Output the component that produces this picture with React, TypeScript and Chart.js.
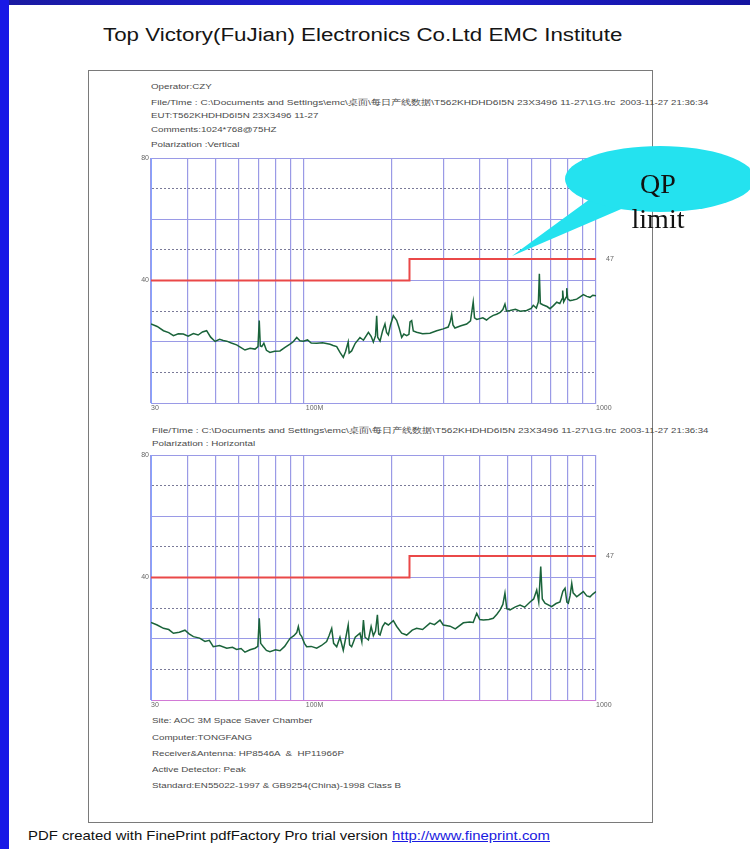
import React, { useEffect, useRef } from 'react';
import { Chart, registerables } from 'chart.js';

Chart.register(...registerables);

// ---------- data ----------
const gridFreqs = [30, 40, 50, 60, 70, 80, 90, 100, 200, 300, 400, 500, 600, 700, 800, 900, 1000];
const xTickLabels: Record<number, string> = { 30: '30', 100: ' 100M', 1000: '1000' };
const yTickLabels = [80, 40];
const limitFreq = [30, 230, 230, 1000];
const limitLevel = [40, 40, 47, 47];
const limitTick = [47];

const vertFreq = [30, 31.5, 33.1, 34.5, 35.8, 37.2, 38.7, 40.2, 41.9, 43.5, 45, 46.5, 48, 49.7, 51.5, 53, 54.5, 56.5, 58.9, 60.8, 62.9, 65.5, 68.1, 69.7, 70.4, 71, 71.8, 73, 74.5, 76.6, 79.5, 82.9, 86, 89.7, 92, 94.6, 97, 99.6, 103, 106, 110.7, 116, 123, 126, 129.6, 133, 136.5, 139, 141.9, 143, 145.8, 150, 155.7, 160, 166.4, 170, 173, 176, 177.6, 179, 182.4, 186, 189.6, 192, 194.7, 198, 202.5, 207.9, 212, 216.3, 220, 225, 229, 231, 234, 237, 243.3, 255, 270.3, 285, 300, 312, 317, 320.7, 324, 329, 345, 361, 372, 380, 384, 390.7, 410, 422, 433.6, 445, 457, 470, 480, 488, 494, 508, 530, 550, 579, 600, 610, 625, 635, 640, 645, 660, 680, 696, 715, 734, 752, 765, 769, 775, 790, 794, 800, 815, 835, 859, 880, 905, 930, 954, 975, 1000];
const vertLevel = [25.8, 25.0, 23.6, 23.0, 22.0, 22.6, 22.5, 21.8, 22.7, 22.2, 23.2, 23.6, 21.5, 20.1, 20.8, 20.4, 20.2, 19.6, 19.0, 18.2, 17.3, 17.9, 17.6, 18.4, 26.9, 18.6, 18.4, 19.5, 17.2, 16.5, 16.9, 17.0, 18.1, 19.2, 20.0, 21.4, 20.3, 20.2, 20.6, 19.6, 19.5, 19.7, 19.2, 18.8, 18.4, 16.5, 14.9, 16.8, 19.9, 16.3, 17.0, 19.5, 21.4, 20.5, 23.1, 21.8, 19.9, 22.0, 28.5, 21.5, 20.2, 23.5, 25.8, 23.0, 22.2, 25.5, 28.5, 27.0, 24.5, 21.4, 22.5, 22.0, 22.4, 26.5, 26.9, 23.5, 23.1, 22.6, 22.8, 23.6, 24.2, 24.8, 26.5, 28.9, 25.5, 24.5, 25.2, 25.8, 26.8, 33.0, 27.8, 27.3, 27.8, 27.1, 28.0, 28.6, 29.0, 29.6, 30.5, 32.3, 30.0, 30.2, 30.6, 30.0, 30.2, 30.9, 31.9, 31.0, 33.0, 42.2, 32.5, 32.0, 31.5, 30.8, 31.8, 32.9, 32.5, 34.0, 36.7, 33.0, 34.5, 37.5, 34.0, 33.4, 33.6, 33.9, 34.6, 35.4, 34.8, 34.5, 35.2, 35.0];

const horFreq = [30, 31.5, 33.1, 34.5, 35.8, 37.5, 39.2, 40.5, 41.9, 44, 45.9, 47.5, 49, 51.5, 54.5, 57, 58.9, 61, 62.9, 65.5, 68.1, 69.6, 70.4, 71.2, 72.7, 74.5, 76.6, 80, 82.9, 86, 89.7, 92.5, 94.6, 95.8, 97, 98.3, 100.5, 102.3, 106, 110.7, 115, 119.7, 122, 124.6, 126.5, 129.6, 133, 136.5, 139, 141.9, 143.5, 145.8, 150, 155.7, 158, 160, 162, 166.4, 170, 173, 176, 178.6, 180.5, 182.4, 186, 189.6, 194.7, 202.5, 208, 216.3, 225, 235, 243.3, 255, 270.3, 280, 292.5, 300, 316.5, 330, 351.6, 370, 380, 390.7, 400, 411.6, 430, 445, 458, 469.6, 480, 488, 495, 508, 530, 549.6, 570, 594.7, 612, 626.8, 637, 647, 655, 669, 705, 730, 753, 770, 783.5, 795, 804, 815, 826, 835, 859, 880, 905, 930, 954, 975, 1000];
const horLevel = [25.3, 24.5, 23.4, 23.0, 21.8, 22.1, 22.8, 21.6, 20.7, 20.2, 19.1, 19.5, 17.4, 17.8, 16.9, 17.2, 16.5, 16.8, 15.6, 16.4, 16.9, 17.5, 26.7, 18.5, 17.4, 16.2, 15.8, 16.4, 16.1, 17.5, 20.1, 21.0, 22.0, 24.0, 21.5, 20.8, 18.5, 17.4, 17.5, 16.9, 17.8, 19.1, 21.0, 23.4, 18.5, 17.4, 20.5, 16.2, 20.0, 24.5, 18.0, 17.4, 20.5, 21.8, 19.0, 26.1, 20.5, 19.6, 24.0, 21.0, 22.5, 27.8, 21.5, 21.2, 24.0, 25.2, 24.5, 25.9, 24.0, 21.8, 21.2, 22.8, 23.4, 23.0, 25.1, 24.6, 26.1, 24.5, 24.1, 23.2, 25.2, 25.5, 25.3, 28.3, 26.3, 26.1, 26.3, 26.7, 28.0, 29.4, 31.2, 34.9, 29.8, 29.4, 30.4, 31.0, 30.3, 32.0, 33.0, 35.9, 32.0, 43.6, 33.0, 31.6, 30.5, 31.5, 32.0, 35.5, 36.5, 32.0, 31.6, 34.0, 38.1, 35.0, 33.7, 34.5, 35.4, 34.0, 33.7, 34.6, 35.4];

// ---------- styling ----------
const SANS = "'Liberation Sans', Arial, sans-serif";
const SERIF = "'Liberation Serif', 'Times New Roman', serif";

type PlotProps = { freq: number[]; level: number[]; left: number; top: number; bottomColor: string };

function EmcPlot({ freq, level, left, top, bottomColor }: PlotProps) {
  const ref = useRef<HTMLCanvasElement | null>(null);
  useEffect(() => {
    if (!ref.current) return;
    const trace = freq.map((x, i) => ({ x, y: level[i] }));
    const limit = limitFreq.map((x, i) => ({ x, y: limitLevel[i] }));
    const tickFont = { family: SANS, size: 7 };
    const chart = new Chart(ref.current, {
      type: 'line',
      data: {
        datasets: [
          { data: trace, borderColor: '#1a633a', borderWidth: 1.5, pointRadius: 0, tension: 0, yAxisID: 'y' },
          { data: limit, borderColor: '#ea4848', borderWidth: 2, pointRadius: 0, tension: 0, yAxisID: 'y' },
        ],
      },
      options: {
        animation: false,
        responsive: false,
        events: [],
        layout: { padding: { top: 8, left: 0, right: 0, bottom: 0 } },
        plugins: { legend: { display: false }, tooltip: { enabled: false } },
        scales: {
          x: {
            type: 'logarithmic',
            min: 30,
            max: 1000,
            afterBuildTicks: (s: any) => {
              s.ticks = gridFreqs.map((v) => ({ value: v }));
            },
            afterFit: (s: any) => {
              s.height = 13;
            },
            ticks: {
              autoSkip: false,
              maxRotation: 0,
              minRotation: 0,
              align: 'start',
              padding: 1,
              color: '#666',
              font: tickFont,
              callback: (v: any) => xTickLabels[Number(v)] ?? '',
            },
            grid: { color: '#9a9ae6', lineWidth: 1.2, drawTicks: false },
            border: { display: true, color: bottomColor, width: 1 },
          },
          y: {
            type: 'linear',
            position: 'left',
            min: 0,
            max: 80,
            afterFit: (s: any) => {
              s.width = 31;
            },
            ticks: {
              stepSize: 10,
              autoSkip: false,
              padding: 2,
              color: '#666',
              font: tickFont,
              callback: (v: any) => (yTickLabels.includes(Number(v)) ? String(v) : ''),
            },
            grid: {
              drawTicks: false,
              lineWidth: 1,
              color: (ctx: any) => (ctx.tick && ctx.tick.value % 20 !== 0 ? '#7a7a98' : '#9a9ae6'),
            },
            border: {
              display: true,
              color: '#86a2ff',
              dash: (ctx: any) => (ctx.tick && ctx.tick.value % 20 !== 0 ? [2, 2] : []),
            },
          },
          y2: {
            type: 'linear',
            position: 'right',
            min: 0,
            max: 80,
            afterBuildTicks: (s: any) => {
              s.ticks = limitTick.map((v) => ({ value: v }));
            },
            afterFit: (s: any) => {
              s.width = 24;
            },
            grid: { display: false },
            border: { display: false },
            ticks: { padding: 2, color: '#666', font: tickFont, callback: (v: any) => String(v) },
          },
        },
      } as any,
    });
    return () => chart.destroy();
  }, [freq, level, bottomColor]);
  return (
    <canvas
      ref={ref}
      width={500}
      height={266}
      style={{ position: 'absolute', left, top, width: 500, height: 266 }}
    />
  );
}

function Txt({ x, y, sx = 1.22, children }: { x: number; y: number; sx?: number; children: React.ReactNode }) {
  return (
    <div
      style={{
        position: 'absolute',
        left: x,
        top: y - 5,
        height: 10,
        lineHeight: '10px',
        fontFamily: SANS,
        fontSize: 8,
        color: '#4a4a4a',
        whiteSpace: 'nowrap',
        transform: `scaleX(${sx})`,
        transformOrigin: 'left center',
      }}
    >
      {children}
    </div>
  );
}

const filePath = 'File/Time : C:\\Documents and Settings\\emc\\桌面\\每日产线数据\\T562KHDHD6I5N 23X3496 11-27\\1G.trc';
const fileDate = '2003-11-27 21:36:34';

function FileLine({ x, y }: { x: number; y: number }) {
  return (
    <>
      <Txt x={x} y={y} sx={1.26}>{filePath}</Txt>
      <Txt x={620} y={y} sx={1.2}>{fileDate}</Txt>
    </>
  );
}

export default function App() {
  return (
    <div
      style={{
        position: 'absolute',
        left: 0,
        top: 0,
        width: 750,
        height: 849,
        overflow: 'hidden',
        background: '#ffffff',
      }}
    >
      <div style={{ position: 'absolute', left: 0, top: 0, width: 750, height: 5, background: 'linear-gradient(90deg,#1a1aa0,#2020d8 50%,#1414a0)' }} />
      <div style={{ position: 'absolute', left: 0, top: 0, width: 9, height: 849, background: '#1818e6' }} />

      <div
        style={{
          position: 'absolute',
          left: 103,
          top: 24,
          fontFamily: SANS,
          fontSize: 18,
          lineHeight: '22px',
          color: '#151515',
          whiteSpace: 'nowrap',
          transform: 'scaleX(1.24)',
          transformOrigin: 'left center',
        }}
      >
        Top Victory(FuJian) Electronics Co.Ltd EMC Institute
      </div>

      <div style={{ position: 'absolute', left: 88, top: 70, width: 563, height: 751, border: '1px solid #7a7a7a' }} />

      <Txt x={151} y={87}>Operator:CZY</Txt>
      <FileLine x={151} y={103} />
      <Txt x={151} y={116}>EUT:T562KHDHD6I5N 23X3496 11-27</Txt>
      <Txt x={151} y={130}>Comments:1024*768@75HZ</Txt>
      <Txt x={151} y={145}>Polarization :Vertical</Txt>

      <EmcPlot freq={vertFreq} level={vertLevel} left={120} top={150} bottomColor="#9a9ae6" />

      <FileLine x={152} y={431} />
      <Txt x={152} y={444}>Polarization : Horizontal</Txt>

      <EmcPlot freq={horFreq} level={horLevel} left={120} top={447} bottomColor="#d27ad6" />

      <Txt x={152} y={721}>Site: AOC 3M Space Saver Chamber</Txt>
      <Txt x={152} y={738}>Computer:TONGFANG</Txt>
      <Txt x={152} y={754}>Receiver&amp;Antenna: HP8546A &nbsp;&amp; &nbsp;HP11966P</Txt>
      <Txt x={152} y={770}>Active Detector: Peak</Txt>
      <Txt x={152} y={786}>Standard:EN55022-1997 &amp; GB9254(China)-1998 Class B</Txt>

      <div
        style={{
          position: 'absolute',
          left: 28,
          top: 828,
          fontFamily: SANS,
          fontSize: 13,
          lineHeight: '16px',
          color: '#111',
          whiteSpace: 'nowrap',
          transform: 'scaleX(1.145)',
          transformOrigin: 'left center',
        }}
      >
        PDF created with FinePrint pdfFactory Pro trial version{' '}
        <span style={{ color: '#1a1ae0', textDecoration: 'underline' }}>http://www.fineprint.com</span>
      </div>

      <svg width={750} height={849} style={{ position: 'absolute', left: 0, top: 0, pointerEvents: 'none' }}>
        <polygon points="590,199 512,256 626,207" fill="#24e2ef" />
        <ellipse cx={660} cy={179} rx={95} ry={33} fill="#24e2ef" />
        <text x={658} y={193} textAnchor="middle" fontFamily={SERIF} fontSize={28} fill="#111">
          QP
        </text>
        <text x={658} y={228} textAnchor="middle" fontFamily={SERIF} fontSize={28} fill="#111">
          limit
        </text>
      </svg>
    </div>
  );
}
